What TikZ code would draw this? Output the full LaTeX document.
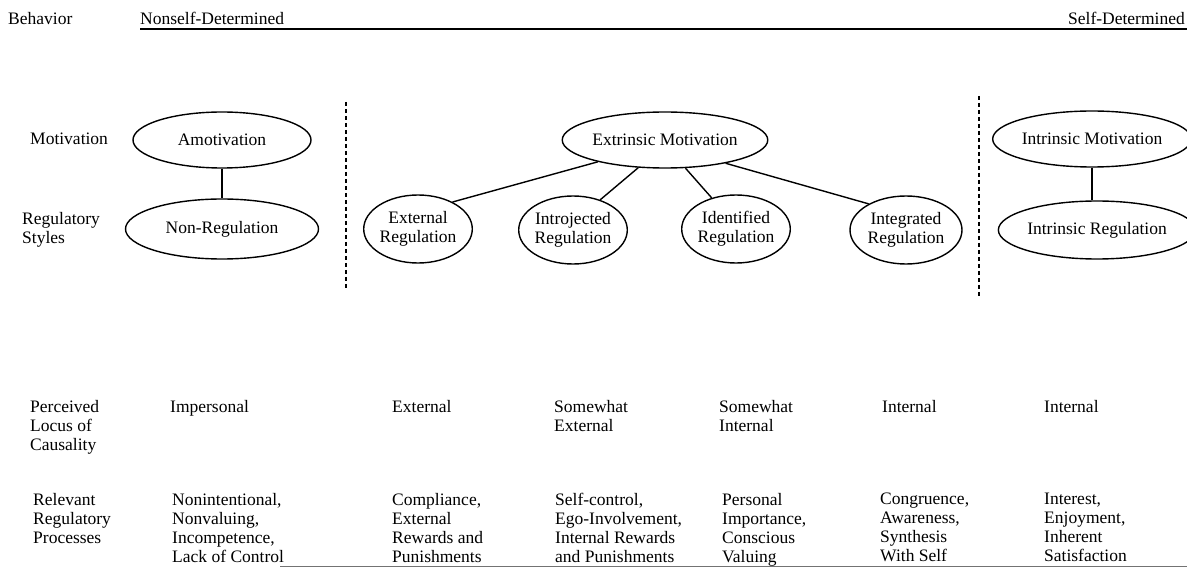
\documentclass[tikz,border=0pt]{standalone}
\usepackage{fontspec}
\setmainfont{Liberation Serif}
\usetikzlibrary{shapes.geometric}

\begin{document}
\begin{tikzpicture}[
  x=1pt, y=-1pt,
  font=\fontsize{17.5}{19}\selectfont,
  motiv/.style={ellipse, draw, line width=1.4pt, inner sep=0pt,
                minimum width=184pt, minimum height=56pt},
  regul/.style={ellipse, draw, line width=1.4pt, inner sep=0pt, align=center,
                minimum width=104pt, minimum height=68pt},
  rowlabel/.style={anchor=north west, align=left, inner sep=0pt},
  cell/.style={anchor=north west, align=left, inner sep=0pt},
  link/.style={line width=1.4pt},
  divider/.style={line width=1.1pt, dash pattern=on 4pt off 3pt},
]
\useasboundingbox (0,0) rectangle (1187,569);

% Header: behaviour continuum
\node[rowlabel] (beh) at (8,12) {Behavior};
\node[cell] (nonself) at (140,12) {Nonself-Determined};
\node[cell, anchor=north east] (self) at (1185,12) {Self-Determined};
\draw[line width=1.8pt] (nonself.south west |- 0,29) -- (1187,29);

% Row labels
\node[rowlabel] (lmot) at (30,133) {Motivation};
\node[rowlabel] (lreg) at (22,212) {Regulatory\\Styles};
\node[rowlabel] (lloc) at (30,400) {Perceived\\Locus of\\Causality};
\node[rowlabel] (lproc) at (33,493) {Relevant\\Regulatory\\Processes};

% Amotivation column
\node[motiv, minimum width=178pt] (AM) at (222,140) {Amotivation};
\node[motiv, minimum width=193pt, minimum height=60pt] (NR) at (222,229) {Non-Regulation};
\draw[link, line width=1.1pt] (AM.south) -- (AM.south |- NR.north);

% Extrinsic motivation and its four regulations
\node[motiv, minimum width=190pt] (EM) at (665,140) {Extrinsic Motivation};
\node[regul] (ER) at (418,229) {External\\Regulation};
\node[regul] (IJ) at (573,230) {Introjected\\Regulation};
\node[regul] (ID) at (736,229) {Identified\\Regulation};
\node[regul, minimum width=112pt] (IG) at (906,230) {Integrated\\Regulation};
\foreach \n/\src/\dst in {ER/198/38, IJ/226/48, ID/306/128, IG/339/145}
  {\draw[link] (EM.\src) -- (\n.\dst);}

% Intrinsic motivation column
\node[motiv, minimum width=180pt] (IM) at (1092,139) {Intrinsic Motivation};
\node[motiv, minimum width=184pt, minimum height=58pt] (IR) at (1097,230) {Intrinsic Regulation};
\draw[link, line width=1.1pt] (IM.south) -- (IM.south |- IR.north);

% Dashed separators
\draw[divider] (346,102) -- (346,290);
\draw[divider] (979,96) -- (979,297);

% Perceived locus of causality
\node[cell] (c1) at (170,400) {Impersonal};
\node[cell] (c2) at (392,400) {External};
\node[cell] (c3) at (554,400) {Somewhat\\External};
\node[cell] (c4) at (719,400) {Somewhat\\Internal};
\node[cell] (c5) at (882,400) {Internal};
\node[cell] (c6) at (1044,400) {Internal};

% Relevant regulatory processes
\node[cell] (p1) at (172,493) {Nonintentional,\\Nonvaluing,\\Incompetence,\\Lack of Control};
\node[cell] (p2) at (392,493) {Compliance,\\External\\Rewards and\\Punishments};
\node[cell] (p3) at (555,493) {Self-control,\\Ego-Involvement,\\Internal Rewards\\and Punishments};
\node[cell] (p4) at (722,493) {Personal\\Importance,\\Conscious\\Valuing};
\node[cell] (p5) at (880,493) {Congruence,\\Awareness,\\Synthesis\\With Self};
\node[cell] (p6) at (1044,493) {Interest,\\Enjoyment,\\Inherent\\Satisfaction};

% Bottom rule
\draw[line width=1pt, black!55] (280,566) -- (1187,566);

\end{tikzpicture}
\end{document}
